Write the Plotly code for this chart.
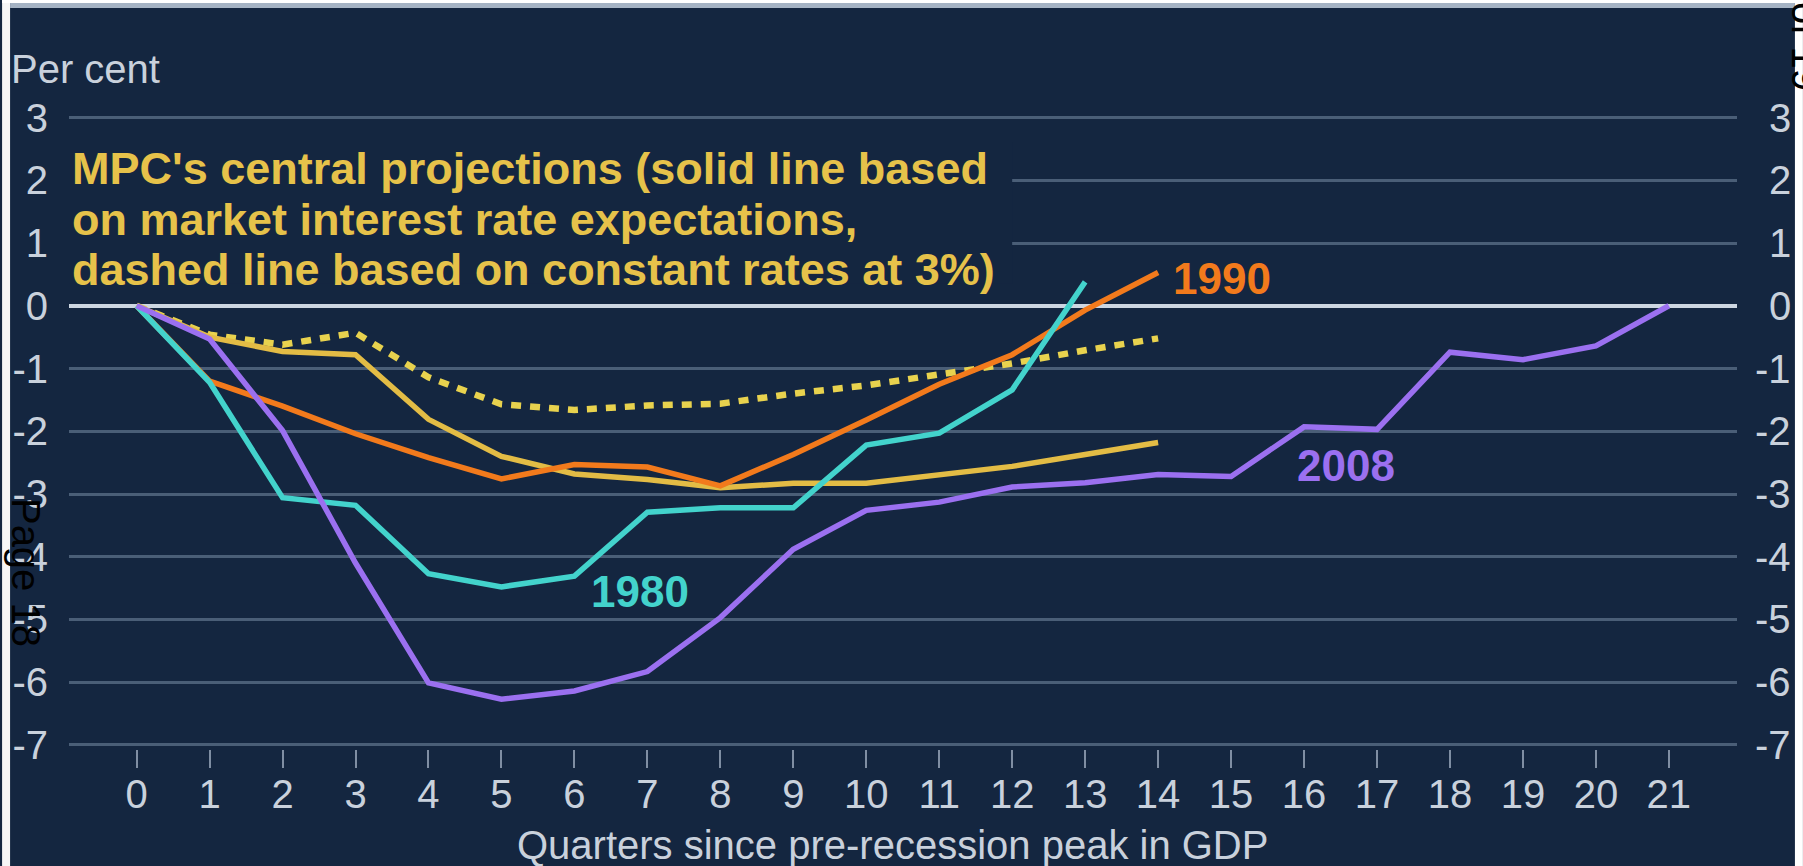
import plotly.graph_objects as go

# Quarters since the pre-recession peak in GDP
quarters = list(range(22))
x_tick_labels = [str(q) for q in quarters]

# Percentage change in output relative to the pre-recession peak
gdp_1980 = [0, -1.22, -3.06, -3.18, -4.27, -4.48, -4.31, -3.29, -3.22, -3.22,
            -2.22, -2.03, -1.34, 0.38]
gdp_1990 = [0, -1.20, -1.60, -2.04, -2.42, -2.76, -2.53, -2.57, -2.87, -2.37,
            -1.82, -1.25, -0.78, -0.07, 0.53]
gdp_2008 = [0, -0.53, -1.99, -4.10, -6.01, -6.27, -6.14, -5.83, -4.97, -3.88,
            -3.26, -3.13, -2.89, -2.82, -2.69, -2.72, -1.93, -1.97, -0.74, -0.86,
            -0.64, 0.0]
mpc_market_rates = [0, -0.50, -0.73, -0.78, -1.81, -2.40, -2.68, -2.77, -2.90,
                    -2.83, -2.83, -2.70, -2.56, -2.37, -2.18]
mpc_constant_rates = [0, -0.46, -0.62, -0.43, -1.14, -1.57, -1.66, -1.59, -1.56,
                      -1.40, -1.27, -1.09, -0.92, -0.71, -0.52]

y_tick_values = [3, 2, 1, 0, -1, -2, -3, -4, -5, -6, -7]
y_tick_labels = ["3", "2", "1", "0", "-1", "-2", "-3", "-4", "-5", "-6", "-7"]

projection_note = [
    "MPC's central projections (solid line based",
    "on market interest rate expectations,",
    "dashed line based on constant rates at 3%)",
]

# Page geometry
W, H = 1803, 866
ML, MR, MT, MB = 67, 66, 114, 117
PW, PH = W - ML - MR, H - MT - MB


def px_x(px):
    return (px - ML) / PW


def px_y(py):
    return (H - MB - py) / PH


NAVY = "#142640"
GRID = "#4a5e77"
TEXT = "#c9d1dc"
FONT = "Liberation Sans, Arial, sans-serif"

C_1980 = "#43d3cc"
C_1990 = "#f27a1c"
C_2008 = "#9b70f0"
C_MPC = "#e3bc45"
C_MPC_DASH = "#e8d24e"
LW = 5.5

fig = go.Figure()

fig.add_trace(go.Scatter(x=quarters[:len(mpc_constant_rates)], y=mpc_constant_rates,
                         mode="lines", line=dict(color=C_MPC_DASH, width=6.5, dash="10px,9px"),
                         name="MPC constant rates"))
fig.add_trace(go.Scatter(x=quarters[:len(mpc_market_rates)], y=mpc_market_rates,
                         mode="lines", line=dict(color=C_MPC, width=LW),
                         name="MPC market rates"))
fig.add_trace(go.Scatter(x=quarters[:len(gdp_1990)], y=gdp_1990,
                         mode="lines", line=dict(color=C_1990, width=LW), name="1990"))
fig.add_trace(go.Scatter(x=quarters[:len(gdp_1980)], y=gdp_1980,
                         mode="lines", line=dict(color=C_1980, width=LW), name="1980"))
fig.add_trace(go.Scatter(x=quarters[:len(gdp_2008)], y=gdp_2008,
                         mode="lines", line=dict(color=C_2008, width=LW), name="2008"))

annotations = []

# Series labels
for text, color, x, y in [("1990", C_1990, 14.88, 0.44),
                          ("2008", C_2008, 16.57, -2.55),
                          ("1980", C_1980, 6.9, -4.55)]:
    annotations.append(dict(x=x, y=y, xref="x", yref="y", text="<b>%s</b>" % text,
                            showarrow=False, xanchor="center", yanchor="middle",
                            font=dict(family=FONT, size=44, color=color)))

# Projection note, one line per annotation
for i, line in enumerate(projection_note):
    annotations.append(dict(x=px_x(68), y=px_y(169 + 50 * i), xref="paper", yref="paper",
                            text="<b>%s</b>" % line, showarrow=False,
                            xanchor="left", yanchor="middle",
                            font=dict(family=FONT, size=45, color="#e6c24a")))

# Right-hand axis labels
for v, lab in zip(y_tick_values, y_tick_labels):
    annotations.append(dict(x=px_x(1793), y=v, xref="paper", yref="y", text=lab,
                            showarrow=False, xanchor="right", yanchor="middle",
                            font=dict(family=FONT, size=40, color=TEXT)))

annotations.append(dict(x=px_x(7), y=px_y(69), xref="paper", yref="paper",
                        text="Per cent", showarrow=False, xanchor="left", yanchor="middle",
                        font=dict(family=FONT, size=40, color=TEXT)))
annotations.append(dict(x=px_x(891), y=px_y(845), xref="paper", yref="paper",
                        text="Quarters since pre-recession peak in GDP", showarrow=False,
                        xanchor="center", yanchor="middle",
                        font=dict(family=FONT, size=40, color=TEXT)))

# Page furniture printed over the edges
annotations.append(dict(x=px_x(24), y=px_y(572), xref="paper", yref="paper",
                        text="Page 18", textangle=90, showarrow=False,
                        xanchor="center", yanchor="middle",
                        font=dict(family=FONT, size=40, color="black")))
annotations.append(dict(x=px_x(1806), y=px_y(47), xref="paper", yref="paper",
                        text="of 19", textangle=90, showarrow=False,
                        xanchor="center", yanchor="middle",
                        font=dict(family=FONT, size=40, color="black")))

shapes = [
    # panel behind the projection note hides the grid there
    dict(type="rect", xref="paper", yref="y", x0=0, x1=px_x(134.7 + 12.0 * 73.05),
         y0=0.35, y1=2.6, fillcolor=NAVY, line=dict(width=0), layer="above"),
    # page margins around the dark panel
    dict(type="rect", xref="paper", yref="paper", x0=px_x(0), x1=px_x(8),
         y0=px_y(H), y1=px_y(0), fillcolor="#f6f6f6", line=dict(width=0), layer="below"),
    dict(type="rect", xref="paper", yref="paper", x0=px_x(1795), x1=px_x(W),
         y0=px_y(H), y1=px_y(0), fillcolor="#ffffff", line=dict(width=0), layer="below"),
    dict(type="rect", xref="paper", yref="paper", x0=px_x(0), x1=px_x(W),
         y0=px_y(3), y1=px_y(0), fillcolor="#ffffff", line=dict(width=0), layer="below"),
    dict(type="rect", xref="paper", yref="paper", x0=px_x(8), x1=px_x(1795),
         y0=px_y(8), y1=px_y(3), fillcolor="#a5b3c4", line=dict(width=0), layer="below"),
]

fig.update_layout(
    width=W, height=H,
    margin=dict(l=ML, r=MR, t=MT, b=MB, pad=0),
    paper_bgcolor=NAVY, plot_bgcolor=NAVY,
    showlegend=False,
    font=dict(family=FONT, size=40, color=TEXT),
    annotations=annotations,
    shapes=shapes,
    xaxis=dict(range=[-0.927, 21.934], tickvals=quarters, ticktext=x_tick_labels,
               showgrid=False, zeroline=False, showline=False,
               ticks="outside", ticklen=18, tickwidth=2, tickcolor="#7f8ea3",
               ticklabelstandoff=-8,
               tickfont=dict(family=FONT, size=40, color=TEXT)),
    yaxis=dict(range=[-7.064, 3.056], tickvals=y_tick_values, ticktext=y_tick_labels,
               showgrid=True, gridcolor=GRID, gridwidth=3,
               zeroline=True, zerolinecolor="#cdd6e1", zerolinewidth=3.5,
               showline=False, ticks="", ticklabelstandoff=20,
               tickfont=dict(family=FONT, size=40, color=TEXT)),
)

fig.write_html("out.html")
